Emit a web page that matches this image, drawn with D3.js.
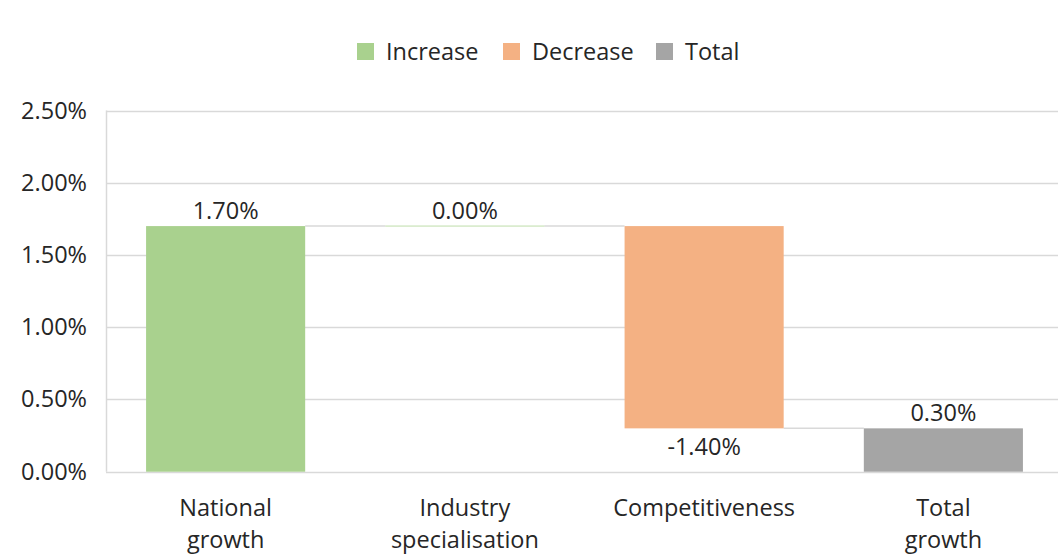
<!DOCTYPE html>
<html>
<head>
<meta charset="utf-8">
<script src="https://cdn.jsdelivr.net/npm/d3@7"></script>
<style>
  html, body { margin: 0; padding: 0; background: #fff; }
  svg { display: block; font-family: "Open Sans", "Noto Sans", sans-serif; }
</style>
</head>
<body>
<svg id="chart" width="1058" height="554"></svg>
<script>
// Waterfall: contributions to growth (percentage points)
const categories = [["National", "growth"], ["Industry", "specialisation"], ["Competitiveness"], ["Total", "growth"]];
const values = [1.7, 0.0, -1.4, 0.3];
const kinds = ["increase", "increase", "decrease", "total"];
const yTicks = [0, 0.5, 1.0, 1.5, 2.0, 2.5];
const legendItems = [["Increase", "increase"], ["Decrease", "decrease"], ["Total", "total"]];

const colors = { increase: "#a9d18e", decrease: "#f4b183", total: "#a5a5a5" };
const textColor = "#262626";
const gridColor = "#d9d9d9";
const fontSize = 23.5;

const pct = d => d3.format(".2f")(d).replace("\u2212", "-") + "%";

const svg = d3.select("#chart");
const plot = { left: 106, right: 1063, top: 110.5, bottom: 471.7 };

const x = d3.scaleBand()
  .domain(d3.range(categories.length))
  .range([plot.left, plot.right])
  .paddingInner(0.335)
  .paddingOuter(0.1675);

const y = d3.scaleLinear().domain([0, 2.5]).range([plot.bottom, plot.top]);

// Running totals: each step starts where the previous one ended
let running = 0;
const steps = values.map((v, i) => {
  let start, end;
  if (kinds[i] === "total") { start = 0; end = v; }
  else { start = running; end = running + v; }
  running = end;
  return { i, v, start, end, kind: kinds[i] };
});

// Grid lines and left frame
svg.append("g").selectAll("line").data(yTicks).join("line")
  .attr("x1", plot.left).attr("x2", plot.right)
  .attr("y1", d => Math.round(y(d)) + 0.5).attr("y2", d => Math.round(y(d)) + 0.5)
  .attr("stroke", gridColor).attr("stroke-width", 1.5);
svg.append("line")
  .attr("x1", plot.left + 0.5).attr("x2", plot.left + 0.5)
  .attr("y1", y(2.5)).attr("y2", y(0))
  .attr("stroke", gridColor).attr("stroke-width", 1.5);

// Y axis labels
const yAxis = d3.axisLeft(y).tickValues(yTicks).tickSize(0).tickPadding(19)
  .tickFormat(pct);
const gy = svg.append("g").attr("transform", `translate(${plot.left},0)`).call(yAxis);
gy.select(".domain").remove();
gy.selectAll("text").attr("fill", textColor).style("font-size", fontSize + "px")
  .style("font-family", "'Open Sans', sans-serif");

// Connectors between consecutive bars
for (let k = 0; k < steps.length - 1; k++) {
  const lvl = steps[k].end;
  svg.append("line")
    .attr("x1", x(k) + x.bandwidth()).attr("x2", x(k + 1))
    .attr("y1", y(lvl)).attr("y2", y(lvl))
    .attr("stroke", gridColor).attr("stroke-width", 1.5);
}

// Bars
svg.append("g").selectAll("rect").data(steps).join("rect")
  .attr("x", d => x(d.i))
  .attr("width", x.bandwidth())
  .attr("y", d => d.v === 0 ? y(d.end) - 0.75 : y(Math.max(d.start, d.end)))
  .attr("height", d => d.v === 0 ? 1.5 : Math.abs(y(d.start) - y(d.end)))
  .attr("fill", d => colors[d.kind])
  .attr("fill-opacity", d => d.v === 0 ? 0.5 : 1);

// Value labels
svg.append("g").selectAll("text").data(steps).join("text")
  .attr("x", d => x(d.i) + x.bandwidth() / 2)
  .attr("y", d => d.v < 0 ? y(d.end) + 27 : y(d.end) - 7)
  .attr("text-anchor", "middle")
  .attr("fill", textColor)
  .style("font-size", fontSize + "px")
  .text(d => pct(d.v));

// Category labels (wrapped onto two lines)
const cat = svg.append("g").selectAll("text").data(categories).join("text")
  .attr("text-anchor", "middle")
  .attr("fill", textColor)
  .style("font-size", fontSize + "px");
cat.each(function(lines, i) {
  d3.select(this).selectAll("tspan").data(lines).join("tspan")
    .attr("x", x(i) + x.bandwidth() / 2)
    .attr("y", (d, j) => 516 + j * 32)
    .text(d => d);
});

// Legend
const legendX = [357, 503, 656];
const lg = svg.append("g").selectAll("g").data(legendItems).join("g")
  .attr("transform", (d, i) => `translate(${legendX[i]},43)`);
lg.append("rect").attr("width", 17).attr("height", 17).attr("fill", d => colors[d[1]]);
lg.append("text").attr("x", 29).attr("y", 17)
  .attr("fill", textColor).style("font-size", fontSize + "px")
  .text(d => d[0]);
</script>
</body>
</html>
